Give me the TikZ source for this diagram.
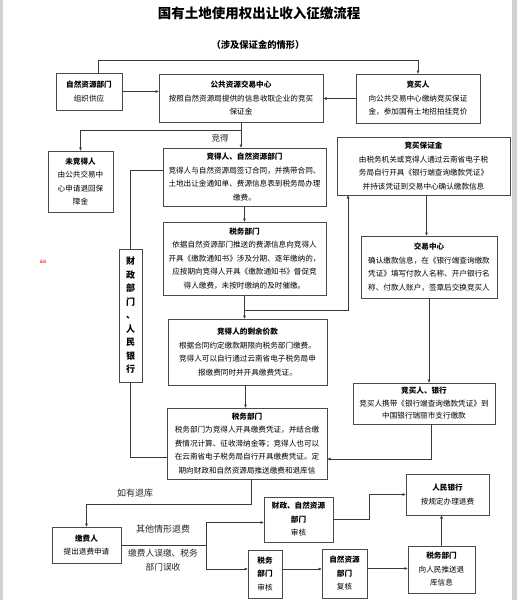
\documentclass[tikz,border=0pt]{standalone}
\usepackage{fontspec}
\setmainfont{Noto Sans CJK SC}
\usetikzlibrary{arrows.meta}
\definecolor{boxc}{HTML}{4A4A4A}
\definecolor{linec}{HTML}{3A3A3A}
\definecolor{edgec}{HTML}{D2D2D2}
\begin{document}
\begin{tikzpicture}[x=1pt,y=-1pt,
 box/.style={draw=boxc, line width=0.6pt, anchor=north west, align=center, inner sep=0pt, outer sep=0pt, font=\fontsize{7.6}{13.5}\selectfont, text=black},
 conn/.style={draw=linec, line width=0.6pt},
 arr/.style={conn, -{Latex[length=3.5pt,width=3pt]}},
 lbl/.style={font=\fontsize{9}{11}\selectfont, text=black!85}
]
\useasboundingbox (0,0) rectangle (517,600);
\fill[white] (0,0) rectangle (517,600);
\fill[edgec] (0,0) rectangle (3,600);
\fill[edgec] (512,0) rectangle (517,600);

\node[font=\bfseries\fontsize{13.5}{15}\selectfont] (title) at (259,13) {国有土地使用权出让收入征缴流程};
\node[font=\bfseries\fontsize{9.3}{11}\selectfont] (sub) at (258,45) {（涉及保证金的情形）};

\node[box, minimum width=66pt, minimum height=37pt] (zr) at (56,73) {\textbf{自然资源部门}\\组织供应};
\node[box, minimum width=164pt, minimum height=48pt] (gg) at (159,74) {\textbf{公共资源交易中心}\\按照自然资源局提供的信息收取企业的竞买\\保证金};
\node[box, minimum width=124pt, minimum height=49pt] (jmr) at (356,74) {\textbf{竞买人}\\向公共交易中心缴纳竞买保证\\金，参加国有土地招拍挂竞价};
\node[box, minimum width=65pt, minimum height=61pt] (wjd) at (48,151) {\textbf{未竞得人}\\由公共交易中\\心申请退回保\\障金};
\node[box, minimum width=163pt, minimum height=58pt] (jdr) at (163,148) {\textbf{竞得人、自然资源部门}\\竞得人与自然资源局签订合同，并携带合同、\\土地出让金通知单、费源信息表到税务局办理\\缴费。};
\node[box, minimum width=163pt, minimum height=73pt] (sw1) at (163,222) {\textbf{税务部门}\\依据自然资源部门推送的费源信息向竞得人\\开具《缴款通知书》涉及分期、逐年缴纳的，\\应按期向竞得人开具《缴款通知书》督促竞\\得人缴费，未按时缴纳的及时催缴。};
\node[box, minimum width=173pt, minimum height=58pt] (jmb) at (337,137) {\textbf{竞买保证金}\\由税务机关或竞得人通过云南省电子税\\务局自行开具《银行端查询缴款凭证》\\并持该凭证到交易中心确认缴款信息};
\node[box, minimum width=136pt, minimum height=62pt] (jyzx) at (361,236) {\textbf{交易中心}\\确认缴款信息，在《银行端查询缴款\\凭证》填写付款人名称、开户银行名\\称、付款人账户，签章后交换竞买人};
\node[box, minimum width=142pt, minimum height=41pt, font=\fontsize{7.6}{12.5}\selectfont] (jmyh) at (353,383) {\textbf{竞买人、银行}\\竞买人携带《银行端查询缴款凭证》到\\中国银行瑞丽市支行缴款};
\node[box, minimum width=159pt, minimum height=66pt] (sy) at (168,319) {\textbf{竞得人的剩余价款}\\根据合同约定缴款期限向税务部门缴费。\\竞得人可以自行通过云南省电子税务局申\\报缴费同时并开具缴费凭证。};
\node[box, minimum width=160pt, minimum height=71pt] (sw2) at (167,408) {\textbf{税务部门}\\税务部门为竞得人开具缴费凭证，并结合缴\\费情况计算、征收滞纳金等；竞得人也可以\\在云南省电子税务局自行开具缴费凭证。定\\期向财政和自然资源局推送缴费和退库信};
\node[box, minimum width=23pt, minimum height=133pt, font=\bfseries\fontsize{9}{13.5}\selectfont] (cz) at (119,249) {财\\政\\部\\门\\、\\人\\民\\银\\行};
\node[text=red, font=\fontsize{6}{7}\selectfont] (aa) at (43,262) {aa};

\node[box, minimum width=69pt, minimum height=36pt] (jfr) at (52,527) {\textbf{缴费人}\\提出退费申请};
\node[box, minimum width=69pt, minimum height=45pt] (czzr) at (264,497) {\textbf{财政、自然资源}\\\textbf{部门}\\审核};
\node[box, minimum width=83pt, minimum height=41pt] (rmyh) at (406,474) {\textbf{人民银行}\\按规定办理退费};
\node[box, minimum width=34pt, minimum height=48pt] (sw3) at (248,550) {\textbf{税务}\\\textbf{部门}\\审核};
\node[box, minimum width=45pt, minimum height=49pt] (zr2) at (322,549) {\textbf{自然资源}\\\textbf{部门}\\复核};
\node[box, minimum width=67pt, minimum height=47pt] (sw4) at (408,546) {\textbf{税务部门}\\向人民推送退\\库信息};

% connectors
\draw[arr] ([xshift=9pt]zr.north) -- ++(0,-13) -| (jmr.north);
\draw[arr] (zr.east) -- (zr.east -| gg.west);
\draw[arr] (jmr.west) -- (jmr.west -| gg.east);
\draw[arr] (gg.south) -- (gg.south |- jdr.north);
\coordinate (j1) at (gg.south |- 0,130);
\draw[arr] (j1) -| (wjd.north);
\node[lbl, font=\fontsize{8.5}{10}\selectfont] (ljd) at (220,138) {竞得};
\draw[arr] (jdr.south) -- (sw1.north);
\draw[arr] (sw1.south) -- (sw1.south |- sy.north);
\coordinate (j2) at (sw1.south |- 0,310);
\draw[arr] (j2) -| ([xshift=11pt]jmb.south west);
\draw[arr] ([xshift=3pt]jmb.south) -- ([xshift=3pt]jmb.south |- jyzx.north);
\draw[arr] (jyzx.south) -- (jyzx.south |- jmyh.north);
\draw[arr] ([xshift=-2pt]sy.south) -- ([xshift=-2pt]sy.south |- sw2.north);
\draw[arr] ([xshift=7pt]jmyh.south) |- ([yshift=-15.5pt]sw2.east);
\draw[conn] ([yshift=7pt]jdr.west) -| (cz.north);
\draw[conn] (cz.south) |- ([yshift=-13.5pt]sw2.west);
\draw[arr] ([xshift=4pt]sw2.south) -- ++(0,25) -| (jfr.north);
\node[lbl] (lth) at (135,493) {如有退库};

\coordinate (sp) at (jfr.east -| 206,0);
\draw[conn] (jfr.east) -- (sp);
\draw[arr] (sp) |- ([yshift=-3pt]czzr.west);
\draw[arr] (sp) |- ([yshift=5pt]sw3.west);
\node[lbl] (lqt) at (163,529) {其他情形退费};
\node[lbl, align=center, font=\fontsize{8.7}{14}\selectfont] (lwj) at (163,560) {缴费人误缴、税务\\部门误收};

\draw[arr] (czzr.east) -- ++(36,0) |- (rmyh.west);
\draw[arr] ([yshift=5pt]sw3.east) -- ([yshift=5pt]sw3.east -| zr2.west);
\draw[arr] ([yshift=5pt]zr2.east) -- ([yshift=5pt]zr2.east -| sw4.west);
\draw[arr] (sw4.north) -- (sw4.north |- rmyh.south);
\end{tikzpicture}
\end{document}
